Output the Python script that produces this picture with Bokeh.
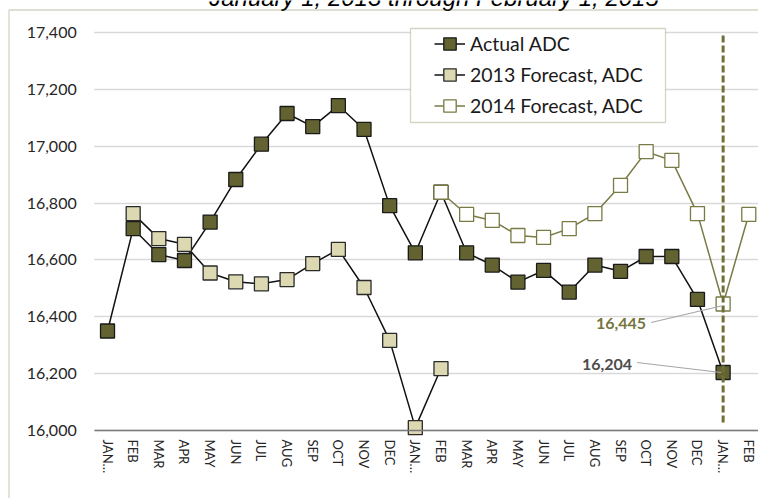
import math
from bokeh.plotting import figure
from bokeh.models import (Range1d, FixedTicker, NumeralTickFormatter, Legend, LegendItem,
                          BoxAnnotation, Label)
from bokeh.embed import file_html
from bokeh.resources import INLINE
from bokeh.core.properties import value

nan = float("nan")

# ---------------- data ----------------
months = ["JAN…", "FEB", "MAR", "APR", "MAY", "JUN", "JUL", "AUG", "SEP", "OCT", "NOV", "DEC",
          "JAN…", "FEB", "MAR", "APR", "MAY", "JUN", "JUL", "AUG", "SEP", "OCT", "NOV", "DEC",
          "JAN…", "FEB"]

actual_adc = [16350, 16710, 16619, 16598, 16733, 16883, 17007, 17115, 17069, 17143, 17059, 16791,
              16625, 16838, 16625, 16582, 16522, 16563, 16487, 16582, 16560, 16612, 16612, 16461,
              16204, nan]

forecast_2013 = [nan, 16763, 16675, 16655, 16554, 16523, 16516, 16531, 16587, 16637, 16503, 16317,
                 16010, 16218, nan, nan, nan, nan, nan, nan, nan, nan, nan, nan,
                 nan, nan]

forecast_2014 = [nan, nan, nan, nan, nan, nan, nan, nan, nan, nan, nan, nan,
                 nan, 16838, 16760, 16739, 16686, 16679, 16710, 16763, 16862, 16981, 16950, 16763,
                 16445, 16760]

y_ticks = [16000, 16200, 16400, 16600, 16800, 17000, 17200, 17400]

title_text = "January 1, 2013 through February 1, 2015"

# ---------------- styling ----------------
OLIVE = "#6f6f3a"
OLIVE_LINE = "#7a7a44"
ACTUAL_FILL = "#636331"
F13_FILL = "#dbd8b2"
FONT = "Lato"

W, H = 758, 498
PLOT_LEFT, PLOT_TOP, PLOT_BOTTOM = 94.2, 32.0, 430.0   # pixel box of the plotting area
cat_px = 25.65
px_per_y = (PLOT_BOTTOM - PLOT_TOP) / (y_ticks[-1] - y_ticks[0])
x_start = -0.5 - PLOT_LEFT / cat_px
x_end = x_start + W / cat_px
y_start = y_ticks[0] - (H - PLOT_BOTTOM) / px_per_y
y_end = y_ticks[-1] + PLOT_TOP / px_per_y


def xd(px):
    return x_start + px / cat_px


def yd(py):
    return y_end - py / px_per_y


def ssx(px):
    return px


def ssy(py):
    return H - py


xs = list(range(len(months)))

p = figure(width=W, height=H, output_backend="svg", toolbar_location=None,
           x_range=Range1d(x_start, x_end), y_range=Range1d(y_start, y_end),
           min_border_left=0, min_border_right=0, min_border_top=0, min_border_bottom=0)
p.outline_line_color = None
p.background_fill_color = "white"
p.border_fill_color = "white"

p.xgrid.grid_line_color = None
p.ygrid.grid_line_color = "#d9d9d9"
p.ygrid.grid_line_width = 1.3

ya = p.yaxis[0]
ya.fixed_location = -0.5
ya.ticker = FixedTicker(ticks=y_ticks)
ya.formatter = NumeralTickFormatter(format="0,0")
ya.axis_line_color = None
ya.major_tick_line_color = None
ya.minor_tick_line_color = None
ya.major_tick_out = 0
ya.major_tick_in = 0
ya.major_label_standoff = 18
ya.major_label_text_font = FONT
ya.major_label_text_font_size = "16px"
ya.major_label_text_color = "#262626"

xa = p.xaxis[0]
xa.fixed_location = y_ticks[0]
xa.bounds = (-0.5, x_end)
xa.ticker = FixedTicker(ticks=xs)
xa.major_label_overrides = {i: m for i, m in enumerate(months)}
xa.axis_line_color = "#7a7a7a"
xa.axis_line_width = 1.3
xa.major_tick_line_color = None
xa.minor_tick_line_color = None
xa.major_tick_out = 0
xa.major_tick_in = 0
xa.major_label_orientation = -math.pi / 2
xa.major_label_standoff = 9
xa.major_label_text_font = FONT
xa.major_label_text_font_size = "13px"
xa.major_label_text_color = "#262626"

# keep gridlines out of the tick-label gutter
p.add_layout(BoxAnnotation(left=ssx(0), right=ssx(PLOT_LEFT - 0.5), top=ssy(-5), bottom=ssy(H + 5),
                           left_units="screen", right_units="screen",
                           top_units="screen", bottom_units="screen",
                           fill_color="white", fill_alpha=1, line_alpha=0, level="underlay"))

# outer chart border (top/left visible)
p.add_layout(BoxAnnotation(left=ssx(8.5), right=ssx(W + 10), top=ssy(9.5), bottom=ssy(H + 10),
                           left_units="screen", right_units="screen",
                           top_units="screen", bottom_units="screen",
                           fill_alpha=0, line_color=OLIVE, line_width=1.3, level="overlay"))

# title (partially above the visible page, as in the reference)
p.add_layout(Label(x=ssx(433.5), y=ssy(-3.5), x_units="screen", y_units="screen",
                   text=title_text, text_font="Liberation Sans", text_font_style="italic",
                   text_font_size="24px", text_align="center", text_baseline="alphabetic",
                   text_color="#000000"))

# series
la = p.line(xs, actual_adc, line_color="#111111", line_width=1.5)
sa = p.scatter(xs, actual_adc, marker="square", size=14, fill_color=ACTUAL_FILL,
               line_color="#1a1a1a", line_width=1.3)
l13 = p.line(xs, forecast_2013, line_color="#111111", line_width=1.5)
s13 = p.scatter(xs, forecast_2013, marker="square", size=14, fill_color=F13_FILL,
                line_color="#2a2a2a", line_width=1.3)
l14 = p.line(xs, forecast_2014, line_color=OLIVE_LINE, line_width=1.5)
s14 = p.scatter(xs, forecast_2014, marker="square", size=14, fill_color="white",
                line_color=OLIVE_LINE, line_width=1.3)

# vertical dashed marker at the last actual month
last_i = max(i for i, v in enumerate(actual_adc) if v == v)
p.segment(x0=[last_i], x1=[last_i], y0=[yd(35)], y1=[yd(425)],
          line_color=OLIVE, line_width=3, line_dash="7 3")


# data labels with leader lines
def dx(px):
    return px / cat_px


def dy(px):
    return -px / px_per_y


v14 = forecast_2014[last_i]
va = actual_adc[last_i]
p.segment(x0=[last_i + dx(-72), last_i + dx(-86)], y0=[v14 + dy(18.5), va + dy(-10)],
          x1=[last_i + dx(-2), last_i + dx(-2)], y1=[v14 + dy(2), va + dy(0)],
          line_color="#a6a6a6", line_width=1.2)
p.text(x=[last_i], y=[v14], text=[f"{v14:,.0f}"], x_offset=-77, y_offset=19.5,
       text_align="right", text_baseline="middle", text_font=value(FONT),
       text_font_style="bold", text_font_size="16px", text_color="#76763e")
p.text(x=[last_i], y=[va], text=[f"{va:,.0f}"], x_offset=-91, y_offset=-8,
       text_align="right", text_baseline="middle", text_font=value(FONT),
       text_font_style="bold", text_font_size="16px", text_color="#4d4d4d")

# legend frame
p.add_layout(BoxAnnotation(left=ssx(410), right=ssx(665), top=ssy(28), bottom=ssy(122),
                           left_units="screen", right_units="screen",
                           top_units="screen", bottom_units="screen",
                           fill_color="white", fill_alpha=1, line_color=OLIVE, line_width=1.3))

legend = Legend(items=[LegendItem(label="Actual ADC", renderers=[la, sa]),
                       LegendItem(label="2013 Forecast, ADC", renderers=[l13, s13]),
                       LegendItem(label="2014 Forecast, ADC", renderers=[l14, s14])],
                location=(ssx(434), ssy(27.5 + 93)),
                padding=0, spacing=0, margin=0, label_height=31, glyph_height=31,
                glyph_width=31, label_standoff=5, border_line_color=None,
                background_fill_alpha=0, label_text_font=FONT, label_text_font_size="19.5px",
                label_text_color="#1a1a1a")
p.add_layout(legend, "center")

open("out.html", "w").write(file_html(p, INLINE))
